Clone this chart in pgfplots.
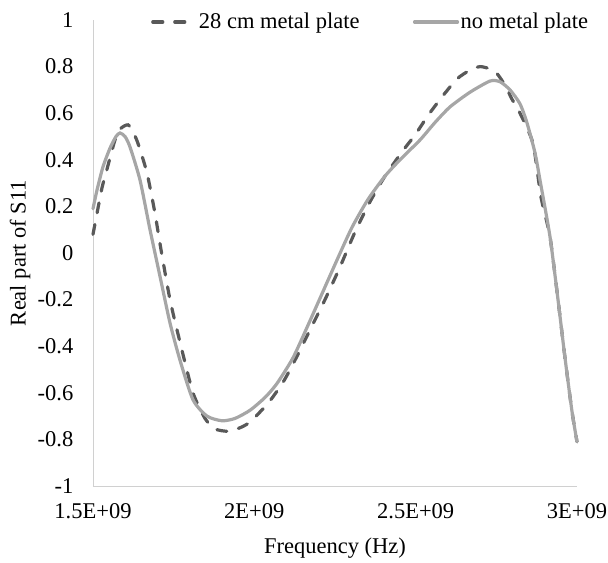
\documentclass[border=0pt]{standalone}
\usepackage{fontspec}
\setmainfont{Liberation Serif}
\usepackage{pgfplots}
\pgfplotsset{compat=1.18}
\definecolor{dashc}{HTML}{595959}
\definecolor{solidc}{HTML}{A6A6A6}
\definecolor{axc}{HTML}{D0D0D0}
\begin{document}
\fontsize{22.5bp}{27bp}\selectfont
\begin{tikzpicture}
\begin{axis}[
  name=ax,
  at={(0,0)}, anchor=south west,
  scale only axis,
  width=484bp, height=466bp,
  xmin=1.5e9, xmax=3e9,
  ymin=-1, ymax=1,
  axis x line=bottom, axis y line=left,
  axis line style={-, draw=axc, line width=0.9bp},
  major tick length=0pt,
  scaled x ticks=false,
  xtick={1.5e9,2e9,2.5e9,3e9},
  xticklabels={1.5E+09,2E+09,2.5E+09,3E+09},
  ytick={-1,-0.8,-0.6,-0.4,-0.2,0,0.2,0.4,0.6,0.8,1},
  yticklabels={-1,-0.8,-0.6,-0.4,-0.2,0,0.2,0.4,0.6,0.8,1},
  yticklabel style={anchor=east, xshift=-12bp},
  xticklabel style={anchor=north, yshift=-10bp},
  xlabel={Frequency (Hz)},
  ylabel={Real part of S11},
  xlabel style={at={(rel axis cs:0.5,-0.1330)}, anchor=center},
  ylabel style={at={(rel axis cs:-0.1508,0.5)}, anchor=center},
  legend columns=2,
  legend style={at={(rel axis cs:0,1)}, anchor=west, xshift=58bp, yshift=-2bp,
    draw=none, fill=none, inner sep=0pt, nodes={inner sep=1.5bp},
    /tikz/every even column/.append style={column sep=52bp}},
  legend image code/.code={\draw[#1] (0bp,0bp) -- (43bp,0bp);},
  clip=false,
]
\addplot[dashc, line width=3.2bp, line cap=round, dash pattern=on 10bp off 12bp, smooth, tension=0.4] coordinates {
(1.5e9,0.08) (1.5124e9,0.17) (1.5279e9,0.28) (1.5434e9,0.36) (1.5682e9,0.485)
(1.5868e9,0.535) (1.6085e9,0.55) (1.6240e9,0.52) (1.6395e9,0.47) (1.6674e9,0.343)
(1.6922e9,0.17) (1.7076e9,0.04) (1.7386e9,-0.20) (1.7727e9,-0.40) (1.8099e9,-0.60)
(1.8471e9,-0.71) (1.8781e9,-0.755) (1.9184e9,-0.765) (1.9556e9,-0.75) (1.9866e9,-0.725)
(2.0424e9,-0.645) (2.0888e9,-0.555) (2.1260e9,-0.46) (2.1725e9,-0.33) (2.2190e9,-0.20)
(2.2655e9,-0.06) (2.3120e9,0.09) (2.3585e9,0.22) (2.4050e9,0.33) (2.4608e9,0.44)
(2.4979e9,0.506) (2.5382e9,0.59) (2.5816e9,0.67) (2.6281e9,0.747) (2.6684e9,0.785)
(2.6994e9,0.80) (2.7304e9,0.79) (2.7521e9,0.77) (2.7769e9,0.72) (2.7986e9,0.66)
(2.8234e9,0.60) (2.8636e9,0.47) (2.8884e9,0.24) (2.9163e9,0.07) (2.9411e9,-0.2)
(2.9628e9,-0.45) (2.9845e9,-0.68) (3.0e9,-0.81)
};
\addlegendentry{28 cm metal plate}
\addplot[solidc, line width=3.2bp, line cap=round, smooth, tension=0.4] coordinates {
(1.5e9,0.19) (1.5124e9,0.27) (1.5310e9,0.37) (1.5527e9,0.45) (1.5713e9,0.50)
(1.5837e9,0.515) (1.5992e9,0.50) (1.6147e9,0.455) (1.6457e9,0.313) (1.6767e9,0.10)
(1.7076e9,-0.10) (1.7386e9,-0.30) (1.7696e9,-0.46) (1.8099e9,-0.63) (1.8533e9,-0.70)
(1.8998e9,-0.72) (1.9401e9,-0.71) (1.9866e9,-0.675) (2.0331e9,-0.62) (2.0702e9,-0.56)
(2.1198e9,-0.45) (2.1663e9,-0.31) (2.2097e9,-0.175) (2.2562e9,-0.03) (2.3027e9,0.11)
(2.3523e9,0.23) (2.4050e9,0.33) (2.4515e9,0.40) (2.5134e9,0.485) (2.5599e9,0.56)
(2.6064e9,0.627) (2.6684e9,0.69) (2.7304e9,0.738) (2.7614e9,0.735) (2.7924e9,0.70)
(2.8234e9,0.64) (2.8451e9,0.558) (2.8698e9,0.43) (2.8853e9,0.313) (2.9163e9,0.07)
(2.9411e9,-0.2) (2.9628e9,-0.45) (2.9845e9,-0.68) (3.0e9,-0.81)
};
\addlegendentry{no metal plate}
\end{axis}
\pgfresetboundingbox
\path[use as bounding box] ([shift={(-93bp,-77bp)}]ax.south west) rectangle ([shift={(31bp,20bp)}]ax.north east);
\end{tikzpicture}
\end{document}
